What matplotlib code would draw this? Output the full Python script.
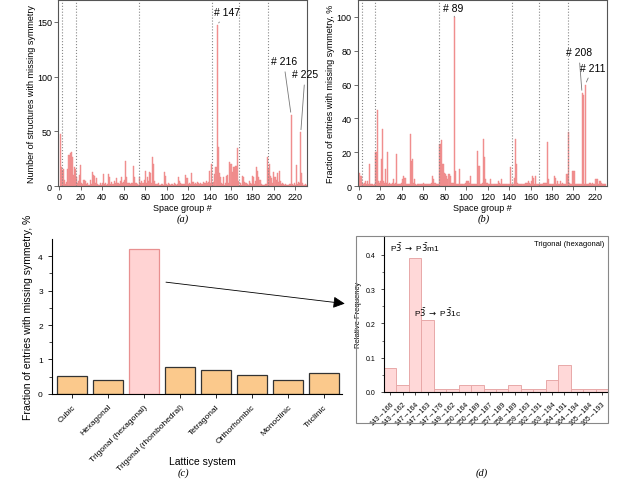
import matplotlib
matplotlib.use("Agg")
import matplotlib.pyplot as plt
import numpy as np
from matplotlib.patches import Rectangle, FancyArrowPatch

plt.rcParams['font.family'] = ['Liberation Sans', 'DejaVu Sans']

# ---- data ----
space_groups = np.arange(1, 231)

# (a) number of structures with missing symmetry, per space group 1..230
count_a = [48, 17, 15, 16, 6, 2, 4, 16, 28, 30, 31, 27, 10, 17, 16, 8, 3, 5, 10, 19,
           3, 2, 6, 5, 2, 3, 1, 1, 6, 2, 13, 10, 9, 3, 7, 2, 1, 3, 1, 3,
           11, 2, 3, 1, 2, 11, 8, 2, 4, 2, 5, 3, 7, 3, 3, 2, 5, 8, 3, 4,
           6, 23, 8, 3, 3, 2, 3, 3, 18, 8, 3, 3, 2, 1, 8, 3, 5, 3, 6, 14,
           3, 8, 5, 13, 12, 3, 27, 20, 5, 2, 2, 3, 1, 1, 2, 2, 1, 13, 9, 2,
           1, 3, 2, 1, 2, 1, 3, 2, 1, 2, 8, 5, 3, 2, 2, 2, 2, 10, 7, 2,
           3, 2, 12, 4, 4, 2, 3, 2, 4, 3, 2, 3, 2, 4, 3, 3, 5, 3, 4, 14,
           3, 20, 3, 4, 11, 17, 147, 36, 12, 8, 3, 2, 8, 1, 3, 9, 10, 3, 22, 20,
           13, 17, 17, 18, 18, 35, 5, 1, 3, 1, 9, 8, 4, 3, 2, 1, 5, 3, 2, 9,
           8, 2, 5, 17, 14, 8, 6, 2, 1, 1, 1, 2, 2, 27, 16, 20, 9, 7, 3, 13,
           8, 6, 12, 4, 14, 5, 2, 3, 2, 1, 2, 1, 1, 1, 2, 65, 2, 1, 3, 1,
           19, 2, 4, 3, 49, 12, 3, 1, 2, 1]

# (b) fraction of entries with missing symmetry, %, per space group 1..230
frac_b = [8, 6, 2, 1, 2, 3, 1, 3, 1, 13, 1, 1, 1, 0.5, 1, 20, 45, 3, 2, 3,
          16, 34, 3, 2, 10, 2, 20, 1, 2, 1, 2, 4, 1, 2, 19, 1, 1, 1, 1, 2,
          4, 6, 5, 1, 1, 1, 1, 31, 15, 16, 2, 4, 1, 0.5, 1, 1, 1, 1, 1, 2,
          1, 1, 1, 1, 1, 1, 1, 2, 6, 4, 2, 1, 1, 1, 25, 25, 27, 13, 13, 8,
          7, 6, 4, 7, 6, 2, 2, 2, 100, 9, 1, 1, 1, 10, 1, 1, 1, 1, 2, 3,
          3, 3, 2, 6, 1, 1, 1, 1, 1, 1, 21, 12, 1, 1, 2, 28, 17, 4, 2, 2,
          1, 1, 4, 1, 1, 1, 1, 1, 1, 3, 2, 1, 4, 1, 1, 1, 1, 1, 1, 1,
          11, 1, 1, 1, 5, 28, 13, 2, 1, 1, 1, 1, 1, 1, 2, 2, 2, 3, 2, 1,
          3, 6, 5, 1, 6, 1, 1, 1, 1, 1, 1, 2, 2, 2, 2, 26, 4, 1, 1, 1,
          1, 6, 5, 1, 3, 1, 1, 3, 1, 2, 1, 1, 1, 7, 32, 2, 1, 1, 9, 9,
          9, 1, 1, 1, 1, 1, 1, 55, 54, 1, 60, 1, 1, 1, 2, 2, 1, 2, 1, 1,
          4, 4, 1, 3, 3, 2, 1, 1, 1, 1]

# crystal-system boundaries
boundaries = [2.5, 15.5, 74.5, 142.5, 167.5, 194.5]

# (c) lattice systems
lattice = ['Cubic', 'Hexagonal', 'Trigonal (hexagonal)', 'Trigonal (rhombohedral)',
           'Tetragonal', 'Orthorhombic', 'Monoclinic', 'Triclinic']
lattice_frac = [0.53, 0.39, 4.2, 0.78, 0.70, 0.56, 0.40, 0.62]

# (d) transitions within trigonal (hexagonal)
transitions = ['143→166', '143→162', '147→164', '147→163', '147→176', '149→162',
               '150→164', '150→189', '156→187', '157→189', '158→189', '159→163',
               '162→191', '163→194', '164→191', '164→194', '165→184', '165→193']
rel_freq = [0.07, 0.02, 0.39, 0.21, 0.01, 0.01, 0.02, 0.02, 0.01, 0.01,
            0.02, 0.01, 0.01, 0.035, 0.08, 0.01, 0.01, 0.01]

bar_col = '#F39595'
spine_col = '#555555'
fs = 6.5

fig = plt.figure(figsize=(6.4, 4.81), dpi=100)


def sg_panel(rect, vals, ylim, yticks, ylabel):
    ax = fig.add_axes(rect)
    ax.bar(space_groups, vals, width=1.0, color=bar_col, edgecolor='#EC8585', linewidth=0.3)
    for b in boundaries:
        ax.axvline(b, color='#888888', ls=':', lw=0.8)
    ax.set_xlim(-1, 231)
    ax.set_ylim(*ylim)
    ax.set_xticks(np.arange(0, 221, 20))
    ax.set_yticks(yticks)
    ax.tick_params(labelsize=fs, length=3, width=0.6, color=spine_col, pad=1.5)
    for s in ax.spines.values():
        s.set_color(spine_col)
        s.set_linewidth(0.8)
    ax.set_xlabel('Space group #', fontsize=fs, labelpad=1)
    ax.set_ylabel(ylabel, fontsize=fs, labelpad=1)
    return ax


# ---- (a) ----
axa = sg_panel([0.091, 0.611, 0.389, 0.387], count_a, (0, 170), [0, 50, 100, 150],
               'Number of structures with missing symmetry')
akw = dict(fontsize=7.5, ha='center', va='center',
           arrowprops=dict(arrowstyle='-', color='#777777', lw=0.6))
axa.annotate('# 147', xy=(147, count_a[146]), xytext=(156, 159), **akw)
axa.annotate('# 216', xy=(216, count_a[215]), xytext=(209, 114), **akw)
axa.annotate('# 225', xy=(225, count_a[224]), xytext=(229, 102), **akw)
fig.text(0.286, 0.54, '(a)', fontsize=7.5, ha='center', style='italic', family='Liberation Serif')

# ---- (b) ----
axb = sg_panel([0.559, 0.611, 0.389, 0.387], frac_b, (0, 110), np.arange(0, 101, 20),
               'Fraction of entries with missing symmetry, %')
axb.annotate('# 89', xy=(89, frac_b[88]), xytext=(88, 105), **akw)
axb.annotate('# 208', xy=(208, frac_b[207]), xytext=(205, 79), **akw)
axb.annotate('# 211', xy=(211, frac_b[210]), xytext=(218, 70), **akw)
fig.text(0.756, 0.54, '(b)', fontsize=7.5, ha='center', style='italic', family='Liberation Serif')

# ---- (c) ----
axc = fig.add_axes([0.081, 0.179, 0.453, 0.322])
cols = ['#FBC98C'] * len(lattice)
edges = ['#333333'] * len(lattice)
cols[2] = '#FFD3D3'
edges[2] = '#E89090'
xc = np.arange(len(lattice))
axc.bar(xc, lattice_frac, width=0.83, color=cols, edgecolor=edges, linewidth=0.9)
axc.set_xlim(-0.56, 7.5)
axc.set_ylim(0, 4.5)
axc.set_yticks([0, 1, 2, 3, 4])
axc.set_yticks(np.arange(0.5, 4.5, 1), minor=True)
axc.set_xticks(xc)
axc.set_xticklabels(lattice, rotation=45, ha='right', rotation_mode='anchor', fontsize=6)
axc.tick_params(labelsize=6, length=3, width=0.6)
axc.tick_params(which='minor', length=2, width=0.5)
axc.spines['top'].set_visible(False)
axc.spines['right'].set_visible(False)
axc.set_ylabel('Fraction of entries with missing symmetry, %', fontsize=7.5, labelpad=4)
fig.text(0.316, 0.033, 'Lattice system', fontsize=7.5, ha='center')
fig.text(0.286, 0.01, '(c)', fontsize=7.5, ha='center', style='italic', family='Liberation Serif')

# arrow from (c) to (d)
arr = FancyArrowPatch((0.255, 0.412), (0.543, 0.366), transform=fig.transFigure,
                      arrowstyle='-|>,head_length=7,head_width=3.5', color='black', lw=0.6)
fig.add_artist(arr)

# ---- (d) ----
fig.add_artist(Rectangle((0.556, 0.1185), 0.394, 0.389, transform=fig.transFigure,
                         fill=False, edgecolor='#888888', lw=0.8))
axd = fig.add_axes([0.600, 0.183, 0.350, 0.324])
xd = np.arange(len(transitions))
axd.bar(xd, rel_freq, width=1.0, color='#FFD8D8', edgecolor='#E8A8A8', linewidth=0.7)
axd.set_xlim(-0.5, len(transitions) - 0.5)
axd.set_ylim(0, 0.455)
axd.set_yticks([0.0, 0.1, 0.2, 0.3, 0.4])
axd.set_yticks(np.arange(0.05, 0.45, 0.1), minor=True)
axd.set_xticks(xd)
axd.set_xticklabels(transitions, rotation=45, ha='right', rotation_mode='anchor', fontsize=4.5)
axd.tick_params(labelsize=5, length=2.5, width=0.5)
axd.tick_params(which='minor', length=1.5, width=0.4)
axd.spines['top'].set_visible(False)
axd.spines['right'].set_visible(False)
axd.set_ylabel('Relative Frequency', fontsize=5.5, labelpad=3)
axd.text(2.0, 0.413, r'P$\bar{3}$ $\rightarrow$ P$\bar{3}$m1', fontsize=6, ha='center')
axd.text(3.8, 0.221, r'P$\bar{3}$ $\rightarrow$ P$\bar{3}$1c', fontsize=6, ha='center')
axd.text(0.985, 0.95, 'Trigonal (hexagonal)', transform=axd.transAxes, fontsize=5.5,
         ha='right', va='center')
fig.text(0.753, 0.01, '(d)', fontsize=7.5, ha='center', style='italic', family='Liberation Serif')

fig.savefig('out.png', dpi=100)
